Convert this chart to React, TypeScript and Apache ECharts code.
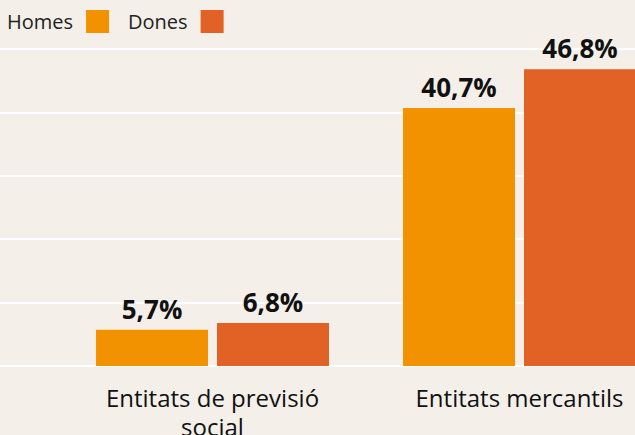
import React, { useEffect, useRef } from "react";
import * as echarts from "echarts";

const categories = ["Entitats de previsió\nsocial", "Entitats mercantils"];
const seriesNames = ["Homes", "Dones"];
const homes = [5.7, 40.7];
const dones = [6.8, 46.8];
const colors = ["#F39200", "#E16224"];

const fmt = (v: number) => v.toFixed(1).replace(".", ",") + "%";

const VIEW_W = 635;
const CHART_W = 673;

export default function App() {
  const ref = useRef<HTMLDivElement>(null);
  useEffect(() => {
    const chart = echarts.init(ref.current!, null, { renderer: "svg" });
    const font = "'Open Sans', 'Noto Sans', sans-serif";
    const label = {
      show: true,
      position: "top" as const,
      distance: 8,
      fontFamily: font,
      fontWeight: "bold" as const,
      fontSize: 26,
      color: "#111",
      formatter: (p: any) => fmt(p.value),
    };
    chart.setOption({
      animation: false,
      backgroundColor: "#F4F0E9",
      color: colors,
      legend: {
        left: 7,
        top: 10,
        padding: 0,
        align: "right",
        itemWidth: 23,
        itemHeight: 23,
        itemGap: 19,
        icon: "rect",
        data: seriesNames,
        textStyle: { fontFamily: font, fontSize: 20, color: "#222", padding: [0, 8, 0, 0] },
      },
      grid: [
        { left: 0, right: CHART_W - VIEW_W, top: 49, bottom: 69, outerBoundsMode: "none", containLabel: false },
        { left: 59, right: 0, top: 49, bottom: 69, outerBoundsMode: "none", containLabel: false },
      ],
      xAxis: [
        { type: "category", gridIndex: 0, data: categories, show: false },
        {
          type: "category",
          gridIndex: 1,
          data: categories,
          axisLine: { show: false },
          axisTick: { show: false },
          axisLabel: {
            fontFamily: font,
            fontSize: 24,
            color: "#111",
            margin: 17,
            lineHeight: 29,
            interval: 0,
          },
        },
      ],
      yAxis: [
        {
          type: "value",
          gridIndex: 0,
          min: 0,
          max: 50,
          interval: 10,
          axisLabel: { show: false },
          axisLine: { show: false },
          axisTick: { show: false },
          splitLine: { show: true, lineStyle: { color: "#FFFFFF", width: 2 } },
        },
        {
          type: "value",
          gridIndex: 1,
          min: 0,
          max: 50,
          interval: 10,
          show: false,
          splitLine: { show: false },
        },
      ],
      series: [
        {
          name: seriesNames[0],
          type: "bar",
          xAxisIndex: 1,
          yAxisIndex: 1,
          data: homes,
          barWidth: 112,
          barGap: "8%",
          label,
        },
        {
          name: seriesNames[1],
          type: "bar",
          xAxisIndex: 1,
          yAxisIndex: 1,
          data: dones,
          barWidth: 112,
          barGap: "8%",
          label,
        },
      ],
    });
    return () => chart.dispose();
  }, []);
  return (
    <div
      style={{
        position: "fixed",
        left: 0,
        top: 0,
        width: VIEW_W,
        height: 435,
        overflow: "hidden",
        background: "#F4F0E9",
      }}
    >
      <div ref={ref} style={{ width: CHART_W, height: 435 }} />
    </div>
  );
}
